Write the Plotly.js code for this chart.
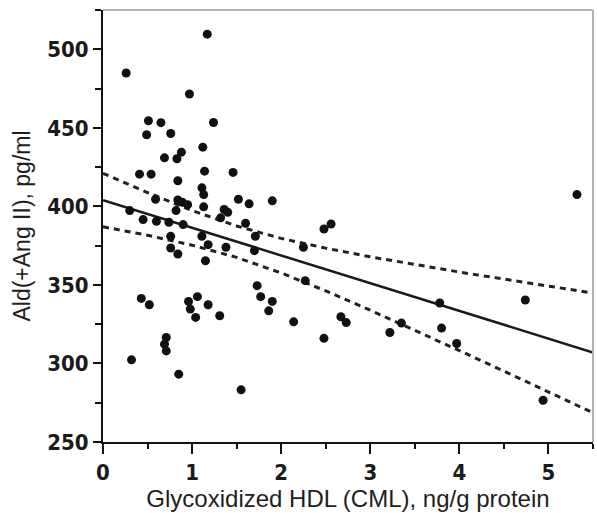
<!DOCTYPE html>
<html>
<head>
<meta charset="utf-8">
<script src="https://cdn.plot.ly/plotly-3.0.1.min.js"></script>
<style>html,body{margin:0;padding:0;background:#fff;}#chart{width:597px;height:517px;}</style>
</head>
<body>
<div id="chart"></div>
<script>
// Scatter points: Glycoxidized HDL (CML) vs Ald(+Ang II)
var cmlX = [0.26,1.17,0.97,0.51,0.65,1.24,0.49,0.76,1.12,0.88,0.83,0.69,0.41,0.54,1.14,1.46,0.84,1.11,1.13,0.59,
            0.84,0.89,0.95,1.52,1.64,1.90,1.13,1.36,1.40,1.32,0.30,0.45,0.60,0.74,0.82,0.90,1.60,0.76,0.76,0.84,
            1.11,1.18,1.15,1.38,1.71,1.70,2.25,2.27,1.73,1.77,1.90,1.86,2.14,0.43,0.52,0.96,1.06,0.98,1.04,1.18,
            1.31,0.71,0.69,0.71,0.32,0.85,1.55,5.32,2.48,2.56,2.67,2.73,2.48,3.22,3.35,3.78,3.80,3.97,4.74,4.94];
var aldY = [484.9,509.6,471.5,454.5,453.3,453.4,445.6,446.4,437.7,434.5,430.3,430.9,420.5,420.5,422.4,421.6,416.3,411.8,407.5,404.5,
            404.1,402.6,401.1,404.5,401.6,403.5,399.7,398.0,396.2,392.7,397.3,391.6,390.5,389.9,397.3,388.4,389.2,380.9,373.5,369.7,
            381.0,375.6,365.4,374.0,381.0,371.8,374.0,352.7,349.5,342.5,339.5,333.5,326.5,341.4,337.4,339.5,342.5,334.6,329.3,337.4,
            330.4,316.5,312.3,308.0,302.3,293.2,283.2,407.5,385.6,388.8,329.7,326.0,316.0,319.7,325.7,338.5,322.5,312.7,340.4,276.6];

// Regression line
var fitX = [0, 5.5];
var fitY = [404, 307];

// 95% confidence band
var ciX     = [0, 0.5, 1, 1.5, 2, 2.5, 3, 3.5, 4, 4.5, 5, 5.5];
var ciUpper = [421.0, 408.8, 397.3, 387.5, 379.6, 373.4, 367.9, 363.0, 358.2, 353.7, 349.2, 344.8];
var ciLower = [387.0, 381.6, 375.3, 367.5, 357.6, 346.2, 333.9, 321.2, 308.2, 295.1, 281.8, 268.6];

// Axis ticks
var xTickVals = [0, 1, 2, 3, 4, 5];
var xTickText = ['0', '1', '2', '3', '4', '5'];
var yTickVals = [250, 300, 350, 400, 450, 500];
var yTickText = ['250', '300', '350', '400', '450', '500'];

var xTitle = 'Glycoxidized HDL (CML), ng/g protein';
var yTitle = 'Ald(+Ang II), pg/ml';

var tickFont = {family: '"Liberation Sans Narrow", "DejaVu Sans Condensed", sans-serif', size: 22, color: '#1a1a1a', weight: 700};
var xTitleFont = {family: '"Liberation Sans", Arial, sans-serif', size: 24, color: '#1e1e1e'};
var yTitleFont = {family: '"Liberation Sans", Arial, sans-serif', size: 23, color: '#1e1e1e'};

var traces = [
  {x: ciX, y: ciUpper, mode: 'lines', type: 'scatter', line: {color: '#222', width: 3, dash: '6px,5px'}, hoverinfo: 'skip'},
  {x: ciX, y: ciLower, mode: 'lines', type: 'scatter', line: {color: '#222', width: 3, dash: '6px,5px'}, hoverinfo: 'skip'},
  {x: fitX, y: fitY, mode: 'lines', type: 'scatter', line: {color: '#1a1a1a', width: 2.5}},
  {x: cmlX, y: aldY, mode: 'markers', type: 'scatter', marker: {color: '#111', size: 9}}
];

var layout = {
  width: 597, height: 517,
  margin: {l: 103, r: 4, t: 10, b: 75},
  paper_bgcolor: '#fff', plot_bgcolor: '#fff',
  font: {color: '#1e1e1e', family: '"Liberation Sans", Arial, sans-serif'},
  showlegend: false,
  xaxis: {
    range: [0, 5.5], showgrid: false, zeroline: false,
    showline: true, linecolor: '#111', linewidth: 2,
    ticks: 'outside', ticklen: 10, tickwidth: 2, tickcolor: '#111',
    tickvals: xTickVals, ticktext: xTickText, tickfont: tickFont,
    minor: {dtick: 0.5, ticks: 'outside', ticklen: 5, tickwidth: 2, tickcolor: '#111', showgrid: false},
    title: {text: xTitle, font: xTitleFont, standoff: 5},
    automargin: false
  },
  yaxis: {
    range: [250, 525], showgrid: false, zeroline: false,
    showline: true, linecolor: '#111', linewidth: 2,
    ticks: 'outside', ticklen: 8, tickwidth: 2, tickcolor: '#111',
    tickvals: yTickVals, ticktext: yTickText, tickfont: tickFont,
    minor: {dtick: 25, ticks: 'outside', ticklen: 6, tickwidth: 2, tickcolor: '#111', showgrid: false},
    title: {text: yTitle, font: yTitleFont, standoff: 10},
    automargin: false
  },
  shapes: [
    {type: 'line', xref: 'paper', yref: 'paper', x0: 0, x1: 1, y0: 1, y1: 1, line: {color: '#b4b4b4', width: 2}},
    {type: 'line', xref: 'paper', yref: 'paper', x0: 1, x1: 1, y0: 0, y1: 1, line: {color: '#b4b4b4', width: 2}}
  ]
};

Plotly.newPlot('chart', traces, layout, {displayModeBar: false, staticPlot: true});
</script>
</body>
</html>
